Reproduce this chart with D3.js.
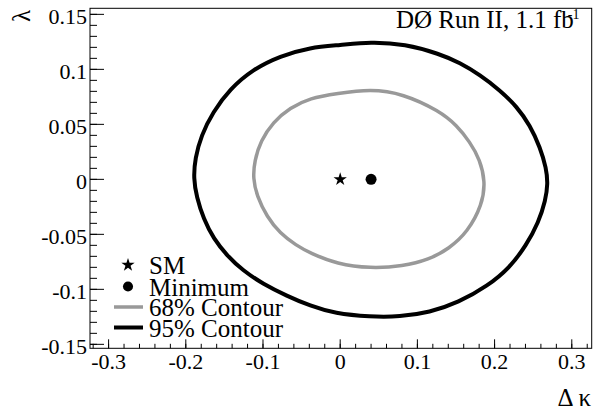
<!DOCTYPE html>
<html>
<head>
<meta charset="utf-8">
<script src="https://cdn.jsdelivr.net/npm/d3@7"></script>
<style>
  body { margin: 0; background: #fff; }
  text { font-family: "Liberation Serif", "Times New Roman", Times, serif; }
</style>
</head>
<body>
<svg id="chart" width="606" height="410"></svg>
<script>
var contour95 = [
  [0.000, 0.122], [0.039, 0.125], [0.084, 0.123], [0.129, 0.114], [0.155, 0.106],
  [0.181, 0.095], [0.207, 0.081], [0.229, 0.066], [0.246, 0.049], [0.259, 0.029],
  [0.267, 0.010], [0.269, -0.004], [0.266, -0.019], [0.257, -0.039], [0.241, -0.060],
  [0.220, -0.080], [0.191, -0.097], [0.153, -0.112], [0.116, -0.121], [0.077, -0.125],
  [0.039, -0.125], [-0.007, -0.122], [-0.039, -0.115], [-0.069, -0.106], [-0.100, -0.095],
  [-0.126, -0.083], [-0.147, -0.069], [-0.164, -0.054], [-0.177, -0.036], [-0.186, -0.016],
  [-0.190, 0.001], [-0.188, 0.019], [-0.180, 0.040], [-0.165, 0.061], [-0.143, 0.082],
  [-0.113, 0.100], [-0.078, 0.112], [-0.039, 0.120]
];
var contour68 = [
  [-0.004, 0.078], [0.039, 0.082], [0.081, 0.078], [0.129, 0.062], [0.151, 0.049],
  [0.168, 0.034], [0.181, 0.018], [0.188, -0.002], [0.184, -0.023], [0.165, -0.048],
  [0.141, -0.063], [0.115, -0.073], [0.081, -0.079], [0.039, -0.081], [-0.004, -0.077],
  [-0.039, -0.067], [-0.057, -0.060], [-0.078, -0.049], [-0.095, -0.034], [-0.108, -0.015],
  [-0.113, 0.001], [-0.111, 0.017], [-0.103, 0.035], [-0.087, 0.052], [-0.065, 0.065],
  [-0.039, 0.074]
];
var smPoint = [0, 0];
var minPoint = [0.04, 0];

var xTicks = [-0.3, -0.2, -0.1, 0, 0.1, 0.2, 0.3];
var xTickLabels = ["-0.3", "-0.2", "-0.1", "0", "0.1", "0.2", "0.3"];
var yTicks = [-0.15, -0.1, -0.05, 0, 0.05, 0.1, 0.15];
var yTickLabels = ["-0.15", "-0.1", "-0.05", "0", "0.05", "0.1", "0.15"];

var legendLabels = ["SM", "Minimum", "68% Contour", "95% Contour"];

var serif = "'Liberation Serif', 'Times New Roman', Times, serif";
var svg = d3.select("#chart");
var frame = { left: 90, right: 591.7, top: 8.3, bottom: 348.3 };

var x = d3.scaleLinear().domain([-0.3241, 0.3258]).range([frame.left, frame.right]);
var y = d3.scaleLinear().domain([-0.1536, 0.1555]).range([frame.bottom, frame.top]);

svg.append("rect").attr("width", 606).attr("height", 410).attr("fill", "#fff");

// contours
var line = d3.line()
  .x(function(d) { return x(d[0]); })
  .y(function(d) { return y(d[1]); })
  .curve(d3.curveBasisClosed);

svg.append("path").datum(contour68)
  .attr("d", line).attr("fill", "none")
  .attr("stroke", "#999").attr("stroke-width", 3.5);
svg.append("path").datum(contour95)
  .attr("d", line).attr("fill", "none")
  .attr("stroke", "#000").attr("stroke-width", 4);

// markers
var star = d3.symbol().type(d3.symbolStar).size(55);
var dot = d3.symbol().type(d3.symbolCircle).size(95);
svg.append("path").attr("d", star)
  .attr("transform", "translate(" + x(smPoint[0]) + "," + y(smPoint[1]) + ")");
svg.append("path").attr("d", dot)
  .attr("transform", "translate(" + x(minPoint[0]) + "," + y(minPoint[1]) + ")");

// frame
svg.append("rect")
  .attr("x", frame.left).attr("y", frame.top)
  .attr("width", frame.right - frame.left).attr("height", frame.bottom - frame.top)
  .attr("fill", "none").attr("stroke", "#000").attr("stroke-width", 1);

// x axis ticks
var ax = svg.append("g");
var xMinor = d3.range(-0.32, 0.3201, 0.02);
ax.selectAll(".xminor").data(xMinor).enter().append("line")
  .attr("x1", function(d) { return x(d); }).attr("x2", function(d) { return x(d); })
  .attr("y1", frame.bottom).attr("y2", frame.bottom - 4.5)
  .attr("stroke", "#000");
ax.selectAll(".xmajor").data(xTicks).enter().append("line")
  .attr("x1", function(d) { return x(d); }).attr("x2", function(d) { return x(d); })
  .attr("y1", frame.bottom).attr("y2", frame.bottom - 9)
  .attr("stroke", "#000");
ax.selectAll(".xlab").data(xTicks).enter().append("text")
  .attr("x", function(d) { return x(d); }).attr("y", 369)
  .attr("text-anchor", "middle").attr("font-size", 22)
  .style("font-family", serif)
  .text(function(d, i) { return xTickLabels[i]; });

// y axis ticks
var ay = svg.append("g");
var yMinor = d3.range(-0.15, 0.1501, 0.01);
ay.selectAll(".yminor").data(yMinor).enter().append("line")
  .attr("y1", function(d) { return y(d); }).attr("y2", function(d) { return y(d); })
  .attr("x1", frame.left).attr("x2", frame.left + 7)
  .attr("stroke", "#000");
ay.selectAll(".ymajor").data(yTicks).enter().append("line")
  .attr("y1", function(d) { return y(d); }).attr("y2", function(d) { return y(d); })
  .attr("x1", frame.left).attr("x2", frame.left + 14)
  .attr("stroke", "#000");
ay.selectAll(".ylab").data(yTicks).enter().append("text")
  .attr("x", 87).attr("y", function(d) { return y(d) + 10; })
  .attr("text-anchor", "end").attr("font-size", 22)
  .style("font-family", serif)
  .text(function(d, i) { return yTickLabels[i]; });

// axis titles
svg.append("text")
  .attr("transform", "translate(30,16) rotate(-90)")
  .attr("text-anchor", "middle").attr("font-size", 25)
  .style("font-family", serif)
  .text("λ");
svg.append("text")
  .attr("x", 591).attr("y", 406)
  .attr("text-anchor", "end").attr("font-size", 25)
  .style("font-family", serif)
  .text("Δ κ");

// experiment label
var title = svg.append("text")
  .attr("x", 396).attr("y", 28).attr("font-size", 25)
  .style("font-family", serif);
title.append("tspan").text("DØ Run II, 1.1 fb");
title.append("tspan").attr("dx", -6).attr("dy", -9).attr("font-size", 14).text("-1");

// legend
var leg = svg.append("g");
var rowY = [265, 286.5, 307, 327.5];
leg.append("path").attr("d", star).attr("transform", "translate(128," + rowY[0] + ")");
leg.append("path").attr("d", d3.symbol().type(d3.symbolCircle).size(80))
  .attr("transform", "translate(128," + rowY[1] + ")");
leg.append("line").attr("x1", 114).attr("x2", 143).attr("y1", rowY[2]).attr("y2", rowY[2])
  .attr("stroke", "#999").attr("stroke-width", 3.5);
leg.append("line").attr("x1", 114).attr("x2", 143).attr("y1", rowY[3]).attr("y2", rowY[3])
  .attr("stroke", "#000").attr("stroke-width", 4);
leg.selectAll("text").data(legendLabels).enter().append("text")
  .attr("x", 149).attr("y", function(d, i) { return rowY[i] + 9; })
  .attr("font-size", 25)
  .style("font-family", serif)
  .text(function(d) { return d; });
</script>
</body>
</html>
